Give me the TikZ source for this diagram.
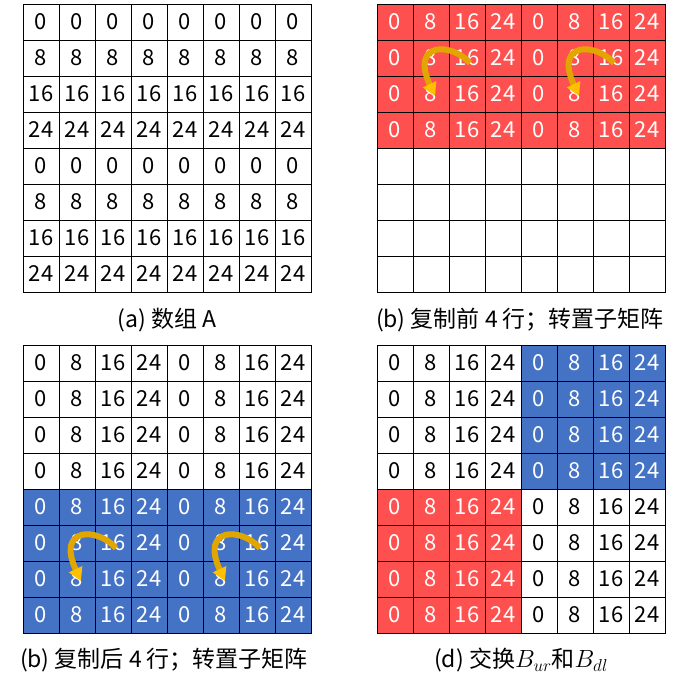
\documentclass[tikz,border=0pt]{standalone}
\usepackage{fontspec}
\setmainfont{Noto Sans CJK SC}
\usepackage{tikz}
\usetikzlibrary{arrows.meta,positioning}
\definecolor{redfill}{HTML}{FF5050}
\definecolor{bluefill}{HTML}{4472C4}
\definecolor{gold}{HTML}{E2A600}
\definecolor{goldtip}{HTML}{FFC000}

\begin{document}
\begin{tikzpicture}[x=1pt, y=-1pt,
  cell/.style={draw=black, line width=0.8pt, minimum size=36pt, inner sep=0pt,
               font=\fontsize{22}{24}\selectfont},
  captext/.style={font=\fontsize{23}{26}\selectfont, inner sep=0pt},
  swap/.style={-{Triangle[length=13pt,width=14pt,color=goldtip]}, draw=gold, line width=6pt}
]
\useasboundingbox (0,0) rectangle (684,689);

% (a) array A
\foreach \r in {0,...,7}
  \foreach \c in {0,...,7} {
    \pgfmathtruncatemacro\v{8*mod(\r,4)}
    \node[cell, fill=white] (a-\r-\c) at (41+36*\c, 22+36*\r) {\v};
  }

% (b) copy first 4 rows
\foreach \r in {0,...,7}
  \foreach \c in {0,...,7} {
    \pgfmathtruncatemacro\v{8*mod(\c,4)}
    \ifnum\r<4 \def\fc{redfill}\def\tc{white}\def\txt{\v}\else\def\fc{white}\def\tc{black}\def\txt{}\fi
    \node[cell, fill=\fc, text=\tc] (b-\r-\c) at (395+36*\c, 22+36*\r) {\txt};
  }

% (c) copy last 4 rows
\foreach \r in {0,...,7}
  \foreach \c in {0,...,7} {
    \pgfmathtruncatemacro\v{8*mod(\c,4)}
    \ifnum\r<4 \def\fc{white}\def\tc{black}\else\def\fc{bluefill}\def\tc{white}\fi
    \node[cell, fill=\fc, text=\tc] (c-\r-\c) at (41+36*\c, 363+36*\r) {\v};
  }

% (d) swap blocks
\foreach \r in {0,...,7}
  \foreach \c in {0,...,7} {
    \pgfmathtruncatemacro\v{8*mod(\c,4)}
    \def\fc{white}\def\tc{black}
    \ifnum\r<4 \ifnum\c>3 \def\fc{bluefill}\def\tc{white}\fi\fi
    \ifnum\r>3 \ifnum\c<4 \def\fc{redfill}\def\tc{white}\fi\fi
    \node[cell, fill=\fc, text=\tc] (d-\r-\c) at (395+36*\c, 363+36*\r) {\v};
  }

% transpose arrows
\foreach \g/\a/\b in {b/1/2, c/5/6} {
  \draw[swap] ([xshift=3pt,yshift=-5pt]\g-\a-2.center)
      .. controls +(-19,-21) and +(-25,-54) .. ([xshift=4pt,yshift=-2pt]\g-\b-1.center);
  \draw[swap] ([xshift=3pt,yshift=-5pt]\g-\a-6.center)
      .. controls +(-19,-21) and +(-25,-54) .. ([xshift=4pt,yshift=-2pt]\g-\b-5.center);
}

% captions
\node[captext] (capA) at (167,320) {(a) 数组 A};
\node[captext] (capB) at (520,320) {(b) 复制前 4 行；转置子矩阵};
\node[captext] (capC) at (164,660) {(b) 复制后 4 行；转置子矩阵};
\node[captext] (capD) at (521,660) {(d) 交换$B_{ur}$和$B_{dl}$};
\end{tikzpicture}
\end{document}
